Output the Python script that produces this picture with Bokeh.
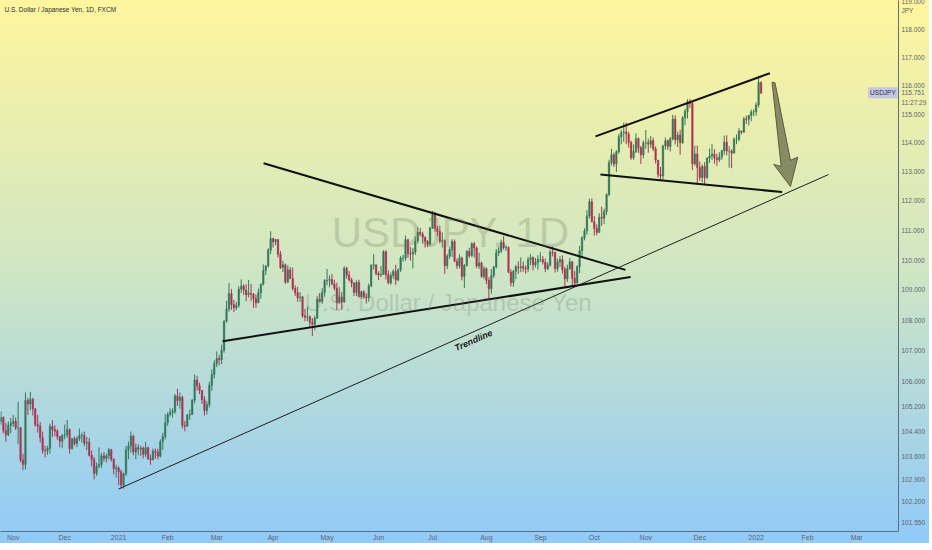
import pandas as pd
from bokeh.plotting import figure
from bokeh.models import Range1d, FixedTicker, PrintfTickFormatter, Label, ColumnDataSource
from bokeh.embed import file_html
from bokeh.resources import INLINE

# ---------------- data ----------------
start_date = "2020-10-26"
holidays = ["2020-12-25", "2021-01-01"]
first_open = 104.72

closes = [
    104.85, 104.43, 104.30, 104.60, 104.66,
    104.73, 104.52, 104.52, 103.50, 103.36, 105.39, 105.28, 105.43, 105.12, 104.62, 104.58, 104.20, 103.80, 103.79, 103.86, 104.56, 104.46, 104.41, 104.24, 104.09, 104.28,
    104.30, 104.46, 103.86, 104.17, 104.02, 104.17, 104.27, 104.28, 104.03, 104.05, 103.65, 103.51, 103.08, 103.30, 103.36, 103.63, 103.55, 103.63, 103.82, 103.52, 103.23, 103.25,
    103.13, 102.71, 103.06, 103.82, 103.94, 104.25, 103.75, 103.89, 103.84, 103.87, 103.68, 103.89, 103.54, 103.51, 103.78, 103.75, 103.62, 104.08, 104.24, 104.68,
    104.94, 105.01, 105.04, 105.54, 105.39, 105.49, 104.59, 104.57, 104.93, 104.94, 105.40, 106.05, 105.87, 105.71, 105.42, 105.07, 105.26, 105.88, 106.23, 106.58,
    106.75, 106.71, 107.02, 107.97, 108.37, 108.88, 108.52, 108.41, 108.49, 109.03, 109.13, 109.00, 108.84, 108.89, 108.86, 108.71, 108.57, 108.91, 109.19, 109.65, 109.80, 110.33, 110.72,
    110.61, 110.69, 110.19, 109.75, 109.84, 109.26, 109.67, 109.38, 109.05, 108.91, 108.75, 108.77, 108.15, 108.10, 108.11, 107.93, 107.87, 108.07, 108.69, 108.62, 108.92, 109.31,
    109.32, 109.35, 109.20, 109.06, 108.58, 108.77, 108.60, 109.72, 109.49, 109.34, 109.23, 108.92, 109.25, 108.78, 108.94, 108.77, 108.74, 109.13, 109.82, 109.84, 109.55,
    109.50, 109.52, 110.28, 109.51, 109.24, 109.48, 109.62, 109.33, 109.67, 110.06, 110.06, 110.68, 110.21, 110.20, 110.27, 110.64, 110.93, 110.87, 110.76, 110.62, 110.53, 111.08,
    111.53, 111.05, 110.96, 110.63, 110.65, 109.81, 110.13, 110.35, 110.62, 109.96, 109.81, 110.07, 109.45, 109.82, 110.29, 110.14, 110.55, 110.40, 109.80, 109.90, 109.45, 109.71,
    109.32, 109.04, 109.48, 109.77, 110.25, 110.29, 110.59, 110.41, 110.42, 109.59, 109.24, 109.62, 109.77, 109.75, 109.78, 109.72, 109.70, 110.02, 110.08, 109.84, 109.92, 110.02,
    110.02, 109.93, 109.71, 109.83, 110.27, 110.25, 109.71, 109.93, 110.01, 109.68, 109.37, 109.71, 109.94, 109.39, 109.23, 109.78, 110.31, 110.75, 110.98, 111.49, 111.97, 111.29,
    111.06, 110.93, 111.44, 111.41, 111.64, 112.22, 113.31, 113.58, 113.26, 113.69, 114.21, 114.35, 114.37, 114.30, 114.01, 113.48, 113.70, 114.14, 113.83, 113.58, 114.00,
    114.00, 113.95, 114.07, 113.79, 113.40, 112.90, 112.85, 113.89, 114.07, 113.87, 114.14, 114.82, 114.10, 114.27, 114.00, 114.87, 115.09, 115.43, 115.37, 113.27, 113.61, 113.14,
    112.80, 113.18, 112.80, 113.47, 113.54, 113.61, 113.47, 113.41, 113.51, 113.72, 114.02, 113.71, 113.71, 113.64, 114.12, 114.12, 114.41, 114.37, 114.83, 114.82, 114.95, 115.07, 115.08,
    115.32, 116.11, 115.75,
]
highs = [
    105.05, 104.88, 104.68, 104.72, 104.83,
    104.93, 104.85, 105.35, 104.55, 103.70, 105.65, 105.48, 105.67, 105.48, 105.15, 104.93, 104.70, 104.40, 103.95, 103.95, 104.65, 104.76, 104.60, 104.48, 104.25, 104.32,
    104.62, 104.77, 104.50, 104.20, 104.24, 104.25, 104.50, 104.37, 104.40, 104.23, 104.20, 103.80, 103.60, 103.42, 103.90, 103.72, 103.75, 103.70, 103.88, 103.85, 103.55, 103.35,
    103.30, 103.20, 103.10, 103.95, 104.08, 104.40, 104.30, 104.02, 104.00, 103.95, 103.93, 104.07, 103.92, 103.67, 103.86, 103.86, 103.85, 104.15, 104.36, 104.95,
    105.02, 105.14, 105.14, 105.60, 105.77, 105.65, 105.55, 104.74, 104.96, 105.10, 105.44, 106.23, 106.19, 105.96, 105.73, 105.53, 105.37, 106.00, 106.40, 106.69,
    106.98, 106.86, 107.20, 108.00, 108.64, 109.23, 109.03, 108.67, 108.60, 109.12, 109.35, 109.19, 109.19, 109.33, 109.20, 108.90, 108.85, 109.05, 109.22, 109.85, 109.83, 110.40, 110.97,
    110.75, 110.71, 110.68, 110.30, 109.97, 109.88, 109.82, 109.76, 109.75, 109.15, 109.10, 108.93, 108.80, 108.38, 108.45, 108.16, 108.07, 108.15, 108.79, 108.90, 109.06, 109.36,
    109.70, 109.48, 109.53, 109.34, 109.24, 109.10, 108.94, 109.79, 109.78, 109.63, 109.40, 109.26, 109.32, 109.34, 108.98, 108.99, 108.89, 109.21, 109.86, 110.20, 109.83,
    109.62, 109.80, 110.33, 110.33, 109.65, 109.58, 109.69, 109.84, 109.72, 110.13, 110.17, 110.82, 110.71, 110.44, 110.40, 110.79, 111.11, 111.07, 110.95, 110.80, 110.67, 111.11,
    111.66, 111.63, 111.15, 111.16, 110.93, 110.70, 110.20, 110.44, 110.70, 110.69, 110.05, 110.19, 110.11, 109.86, 110.33, 110.40, 110.59, 110.61, 110.45, 110.24, 109.95, 109.80,
    109.75, 109.42, 109.70, 109.80, 110.37, 110.43, 110.68, 110.80, 110.50, 110.46, 109.69, 109.67, 109.84, 109.95, 110.09, 109.95, 109.82, 110.10, 110.20, 110.12, 110.07, 110.16,
    110.26, 110.13, 110.05, 109.93, 110.35, 110.45, 110.28, 110.05, 110.13, 110.15, 109.77, 109.84, 110.06, 109.96, 109.63, 109.82, 110.47, 110.80, 111.07, 111.68, 112.07, 112.08,
    111.48, 111.20, 111.58, 111.80, 111.73, 112.25, 113.41, 113.79, 113.66, 113.74, 114.31, 114.45, 114.70, 114.70, 114.39, 114.07, 113.94, 114.32, 114.19, 113.89, 114.08,
    114.44, 114.14, 114.23, 114.18, 113.87, 113.40, 113.16, 113.93, 114.18, 114.11, 114.20, 114.97, 114.95, 114.38, 114.45, 114.93, 115.18, 115.52, 115.53, 115.44, 113.90, 113.90,
    113.35, 113.25, 113.33, 113.50, 113.80, 113.95, 113.78, 113.62, 113.67, 113.76, 114.25, 114.26, 113.88, 113.78, 114.19, 114.29, 114.51, 114.42, 114.90, 114.95, 114.98, 115.16, 115.17,
    115.41, 116.35, 116.15,
]
lows = [
    104.62, 104.35, 104.08, 104.25, 104.35,
    104.55, 104.45, 104.00, 103.43, 103.18, 103.20, 104.93, 105.08, 104.91, 104.55, 104.37, 104.05, 103.70, 103.58, 103.66, 103.70, 104.23, 104.25, 104.14, 103.90, 103.87,
    104.15, 104.20, 103.70, 103.83, 103.96, 103.90, 104.10, 104.05, 103.93, 103.81, 103.61, 103.30, 102.89, 103.00, 103.24, 103.25, 103.45, 103.42, 103.52, 103.45, 103.05, 102.95,
    102.71, 102.59, 102.60, 103.00, 103.52, 103.73, 103.65, 103.52, 103.65, 103.63, 103.55, 103.60, 103.50, 103.35, 103.49, 103.55, 103.52, 103.58, 103.82, 104.15,
    104.58, 104.88, 104.84, 104.97, 105.22, 105.13, 104.50, 104.41, 104.55, 104.77, 104.98, 105.30, 105.71, 105.60, 105.28, 104.91, 104.94, 105.17, 105.70, 106.10,
    106.47, 106.52, 106.57, 106.94, 107.92, 108.28, 108.34, 108.27, 108.33, 108.42, 108.90, 108.84, 108.63, 108.75, 108.63, 108.41, 108.41, 108.57, 108.71, 109.15, 109.50, 109.75, 110.20,
    110.42, 110.50, 110.08, 109.70, 109.60, 109.20, 109.24, 109.36, 108.98, 108.80, 108.61, 108.61, 108.08, 107.97, 107.97, 107.78, 107.48, 107.67, 108.05, 108.59, 108.54, 108.78,
    109.16, 109.09, 109.15, 108.99, 108.34, 108.56, 108.35, 108.57, 109.38, 109.28, 109.09, 108.80, 108.80, 108.75, 108.71, 108.71, 108.55, 108.62, 109.09, 109.68, 109.48,
    109.33, 109.43, 109.50, 109.35, 109.19, 109.17, 109.38, 109.17, 109.29, 109.60, 109.94, 109.97, 110.07, 109.98, 109.72, 110.17, 110.55, 110.80, 110.56, 110.42, 110.43, 110.47,
    111.04, 110.95, 110.80, 110.56, 110.42, 109.54, 109.70, 110.04, 110.10, 109.93, 109.70, 109.72, 109.32, 109.07, 109.78, 110.07, 110.11, 110.08, 109.73, 109.70, 109.41, 109.36,
    109.19, 108.72, 108.88, 109.40, 109.71, 110.13, 110.23, 110.35, 110.30, 109.56, 109.12, 109.11, 109.36, 109.54, 109.59, 109.61, 109.54, 109.59, 109.83, 109.65, 109.75, 109.68,
    109.93, 109.85, 109.59, 109.66, 109.77, 110.12, 109.58, 109.61, 109.77, 109.55, 109.11, 109.27, 109.67, 109.12, 109.11, 109.22, 109.56, 110.13, 110.66, 110.85, 111.40, 111.27,
    110.82, 110.83, 110.91, 111.15, 111.21, 111.52, 112.16, 113.21, 113.16, 112.99, 113.62, 113.95, 114.03, 113.95, 113.83, 113.41, 113.41, 113.64, 113.65, 113.26, 113.46,
    113.79, 113.65, 113.82, 113.71, 113.28, 112.79, 112.72, 112.72, 113.76, 113.75, 113.70, 114.08, 113.94, 113.85, 113.58, 113.96, 114.61, 114.84, 115.22, 113.06, 113.20, 112.55,
    112.69, 112.63, 112.53, 112.75, 113.30, 113.40, 113.27, 113.20, 113.33, 113.41, 113.58, 113.56, 113.14, 113.12, 113.62, 113.95, 114.05, 114.29, 114.34, 114.66, 114.60, 114.75, 114.92,
    114.95, 115.23, 115.70,
]

month_labels = ["Nov", "Dec", "2021", "Feb", "Mar", "Apr", "May", "Jun", "Jul", "Aug",
                "Sep", "Oct", "Nov", "Dec", "2022", "Feb", "Mar"]
month_dates = ["2020-11-02", "2020-12-01", "2021-01-04", "2021-02-01", "2021-03-01",
               "2021-04-01", "2021-05-03", "2021-06-01", "2021-07-01", "2021-08-02",
               "2021-09-01", "2021-10-01", "2021-11-01", "2021-12-01", "2022-01-03",
               "2022-02-01", "2022-03-01"]
price_ticks = [101.55, 102.2, 102.9, 103.6, 104.4, 105.2, 106.0, 107.0, 108.0, 109.0,
               110.0, 111.0, 112.0, 113.0, 114.0, 115.0, 116.0, 117.0, 118.0, 119.0]

# drawn lines: (bar index, price) anchors
trend_idx = [48.0, 337.5]
trend_px = [102.59, 112.90]
tri_top_idx = [107.1, 254.7]
tri_top_px = [113.29, 109.67]
tri_bot_idx = [90.4, 256.8]
tri_bot_px = [107.31, 109.43]
chan_top_idx = [242.5, 313.6]
chan_top_px = [114.22, 116.44]
chan_bot_idx = [244.5, 318.6]
chan_bot_px = [112.90, 112.30]
arrow_idx = [314.5, 315.7, 322.0, 325.0, 322.0, 315.2, 318.2]
arrow_px = [116.12, 116.10, 113.39, 113.50, 112.49, 113.25, 113.18]

last_price = 115.751
countdown = "11:27:29"
countdown_level = 115.40
currency = "JPY"
currency_level = 118.68

# ---------------- build ----------------
days = pd.bdate_range(start_date, "2022-03-31")
days = days[~days.isin(pd.to_datetime(holidays))]
pos = {d.strftime("%Y-%m-%d"): i for i, d in enumerate(days)}

n = len(closes)
opens = [first_open] + closes[:-1]
hi = [max(h, o, c) for h, o, c in zip(highs, opens, closes)]
lo = [min(l, o, c) for l, o, c in zip(lows, opens, closes)]
colors = ["#35795a" if c >= o else "#ab3552" for o, c in zip(opens, closes)]
src = ColumnDataSource(dict(
    x=list(range(n)), h=hi, l=lo,
    top=[max(o, c) for o, c in zip(opens, closes)],
    bot=[min(o, c) for o, c in zip(opens, closes)],
    col=colors))

x_start, x_end = -0.18, 366.06
y_lo, y_hi = 101.27, 119.047
FONT = "Liberation Sans, Arial, sans-serif"

p = figure(frame_width=898, frame_height=531, y_axis_type="log",
           x_range=Range1d(x_start, x_end), y_range=Range1d(y_lo, y_hi),
           y_axis_location="right", toolbar_location=None, output_backend="svg",
           min_border_left=0, min_border_top=0, min_border_right=26, min_border_bottom=11,
           background_fill_color=None, border_fill_color=None, outline_line_color=None,
           styles={"background": "linear-gradient(180deg, #fff59d 0%, #cfe6c4 50%, #90caf9 100%)"})
p.grid.visible = False

for ax in (p.xaxis[0], p.yaxis[0]):
    ax.axis_line_color = "#5f6f7e"
    ax.axis_line_width = 1
    ax.major_tick_line_color = None
    ax.minor_tick_line_color = None
    ax.major_tick_out = 0
    ax.major_tick_in = 0
    ax.minor_tick_out = 0
    ax.minor_tick_in = 0
    ax.major_label_text_font = FONT
    ax.major_label_text_color = "#5e6470"

p.xaxis.ticker = FixedTicker(ticks=[pos[d] for d in month_dates])
p.xaxis.major_label_overrides = {pos[d]: lab for d, lab in zip(month_dates, month_labels)}
p.xaxis.major_label_standoff = 2
p.xaxis.major_label_text_font_size = "7px"

p.yaxis.ticker = FixedTicker(ticks=price_ticks + [last_price, countdown_level, currency_level])
p.yaxis.formatter = PrintfTickFormatter(format="%.3f")
p.yaxis.major_label_overrides = {last_price: "%.3f" % last_price,
                                 countdown_level: countdown,
                                 currency_level: currency}
p.yaxis.major_label_standoff = 3
p.yaxis.major_label_text_font_size = "6.5px"

# watermark
p.add_layout(Label(x=183.3, y=110.91, text="USDJPY, 1D", text_align="center",
                   text_baseline="middle", text_font=FONT,
                   text_font_size="42px", text_color="#6f725e", text_alpha=0.25))
p.add_layout(Label(x=182.5, y=108.60, text="U.S. Dollar / Japanese Yen", text_align="center",
                   text_baseline="middle", text_font=FONT,
                   text_font_size="24px", text_color="#6f725e", text_alpha=0.25))

# candles
p.segment(x0="x", y0="l", x1="x", y1="h", source=src, line_color="col", line_width=1)
p.vbar(x="x", width=0.62, top="top", bottom="bot", source=src, fill_color="col",
       line_color="col", line_width=0.5)

# drawings
p.line(trend_idx, trend_px, line_color="#1e1e1e", line_width=1)
for xs, ys in ((tri_top_idx, tri_top_px), (tri_bot_idx, tri_bot_px),
               (chan_top_idx, chan_top_px), (chan_bot_idx, chan_bot_px)):
    p.line(xs, ys, line_color="#111111", line_width=2)
p.patch(arrow_idx, arrow_px, fill_color="#717350", fill_alpha=0.8, line_color="#5a5b40", line_width=1)

p.add_layout(Label(x=192.7, y=107.34, text="Trendline", angle=0.418, text_align="center",
                   text_baseline="middle", text_font=FONT,
                   text_font_style="bold italic", text_font_size="9px", text_color="#1a1a1a"))

# title
p.add_layout(Label(x=x_start + 1.6, y=118.85, text="U.S. Dollar / Japanese Yen, 1D, FXCM",
                   text_align="left", text_baseline="top", text_font=FONT,
                   text_font_size="6.5px", text_color="#2a2e39"))

# symbol tag at the last price
p.add_layout(Label(x=x_end - 0.3, y=last_price, text="USDJPY", text_align="right",
                   text_baseline="middle", text_font=FONT,
                   text_font_size="6.5px", text_color="#2a2e39", background_fill_color="#c5c8e4",
                   padding=2))

open("out.html", "w").write(file_html(p, INLINE))
